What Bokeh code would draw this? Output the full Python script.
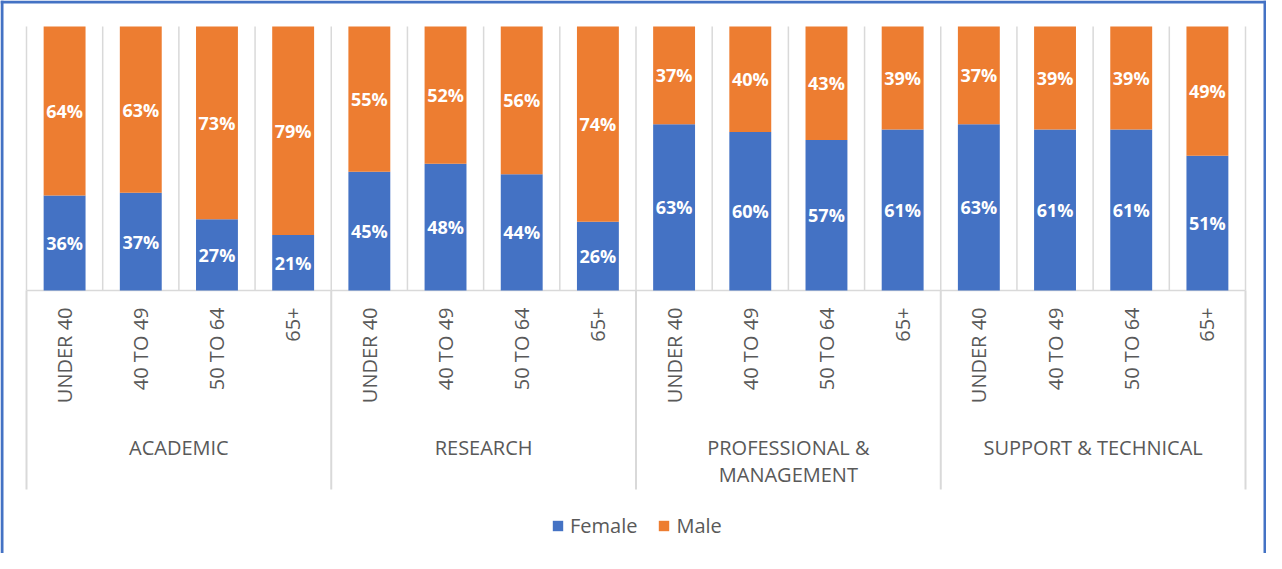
import math
from bokeh.plotting import figure
from bokeh.models import Range1d, ColumnDataSource, Legend, LegendItem
from bokeh.core.properties import value
from bokeh.embed import file_html
from bokeh.resources import INLINE

# ---- data ----
groups = ["ACADEMIC", "RESEARCH", "PROFESSIONAL &\nMANAGEMENT", "SUPPORT & TECHNICAL"]
ages = ["UNDER 40", "40 TO 49", "50 TO 64", "65+"]
female = [36, 37, 27, 21, 45, 48, 44, 26, 63, 60, 57, 61, 63, 61, 61, 51]
male = [64, 63, 73, 79, 55, 52, 56, 74, 37, 40, 43, 39, 37, 39, 39, 49]
series = ["Female", "Male"]

BLUE = "#4472C4"
ORANGE = "#ED7D31"
GRID = "#D9D9D9"
TEXT = "#595959"
FONT = "Open Sans"

# ---- layout (canvas pixels) ----
W, H = 1266, 553
left_px, right_px = 26, 1245      # category area edges
top_px, base_px = 26, 290         # 100% and 0% lines
n = len(female)
S = (right_px - left_px) / n      # px per slot
k = (base_px - top_px) / 100.0    # px per percent

x_start = -left_px / S
x_end = n + (W - right_px) / S
y_top = 100 + top_px / k
y_bot = -(H - base_px) / k


def xpx(cx):
    return x_start + cx / S


def ypx(cy):
    return y_top - cy / k


p = figure(width=W, height=H, x_range=Range1d(x_start, x_end), y_range=Range1d(y_bot, y_top),
           x_axis_type=None, y_axis_type=None, output_backend="svg", toolbar_location=None,
           min_border=0, outline_line_color=None, background_fill_color="white",
           border_fill_color="white")
p.xgrid.visible = False
p.ygrid.visible = False

xs = [i + 0.5 for i in range(n)]
labels_age = [ages[i % 4] for i in range(n)]
src = ColumnDataSource(dict(x=xs, Female=female, Male=male,
                            f_mid=[f / 2 for f in female],
                            m_mid=[f + m / 2 for f, m in zip(female, male)],
                            f_lab=[f"{f}%" for f in female],
                            m_lab=[f"{m}%" for m in male],
                            age=labels_age, base=[0] * n))

# slot gridlines inside plot area
bounds = list(range(n + 1))
p.segment(x0=bounds, y0=[0] * len(bounds), x1=bounds, y1=[100] * len(bounds),
          line_color=GRID, line_width=1.5)

# group separators below axis
gb = [0, 4, 8, 12, 16]
p.segment(x0=gb, y0=[0] * len(gb), x1=gb, y1=[ypx(489)] * len(gb),
          line_color=GRID, line_width=2)

# axis line
p.segment(x0=[0], y0=[0], x1=[n], y1=[0], line_color=GRID, line_width=1.5)

rs = p.vbar_stack(series, x="x", width=0.55, source=src, color=[BLUE, ORANGE], line_color=None)

p.text(x="x", y="f_mid", text="f_lab", source=src, text_font=value(FONT), text_font_size="18px",
       text_font_style="bold", text_color="white", text_align="center", text_baseline="middle")
p.text(x="x", y="m_mid", text="m_lab", source=src, text_font=value(FONT), text_font_size="18px",
       text_font_style="bold", text_color="white", text_align="center", text_baseline="middle")

# category (age) labels, rotated
p.text(x="x", y="base", text="age", source=src, angle=math.pi / 2, y_offset=17,
       text_font=value(FONT), text_font_size="20px", text_color=TEXT,
       text_align="right", text_baseline="middle")

# group labels
gsrc = ColumnDataSource(dict(x=[g * 4 + 2 for g in range(len(groups))], y=[0] * len(groups), t=groups))
p.text(x="x", y="y", text="t", source=gsrc, y_offset=143, text_font=value(FONT),
       text_font_size="20px", text_color=TEXT, text_align="center", text_baseline="top",
       text_line_height=1.0)

# outer border (top, left, right)
p.segment(x0=[x_start, xpx(1.5), xpx(W - 1.5)], y0=[ypx(1.5), y_top, y_top],
          x1=[x_end, xpx(1.5), xpx(W - 1.5)], y1=[ypx(1.5), y_bot, y_bot],
          line_color=BLUE, line_width=3)

legend = Legend(items=[LegendItem(label=series[0], renderers=[rs[0]]),
                       LegendItem(label=series[1], renderers=[rs[1]])],
                orientation="horizontal", location=(551, 14), padding=0, margin=0,
                spacing=20, label_standoff=6, glyph_width=13, glyph_height=13,
                label_text_font=FONT, label_text_font_size="20px", label_text_color=TEXT,
                border_line_color=None, background_fill_alpha=0)
p.add_layout(legend)

open("out.html", "w").write(file_html(p, INLINE))
